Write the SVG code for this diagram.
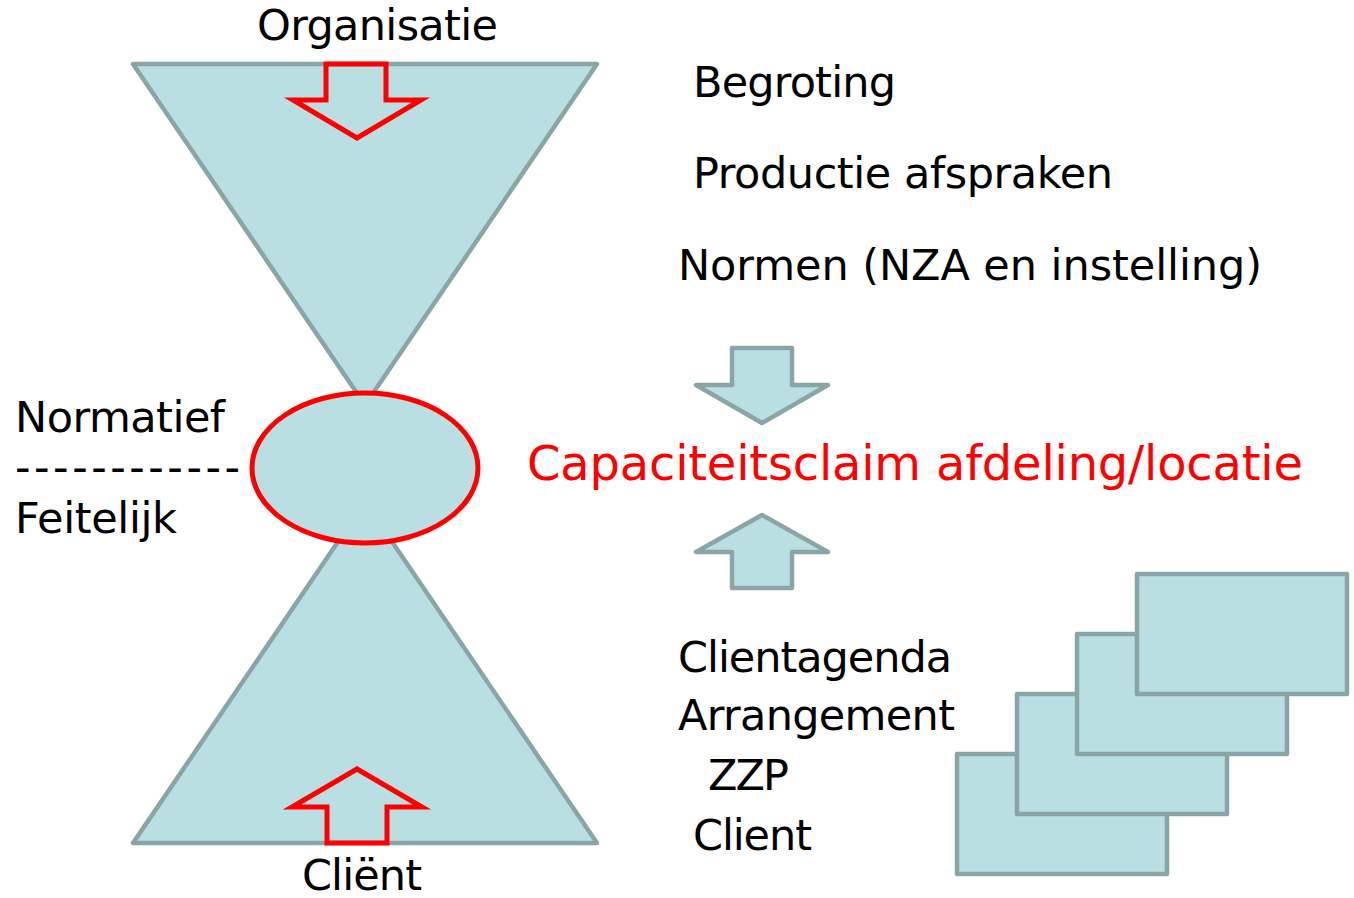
<svg xmlns="http://www.w3.org/2000/svg" width="1354" height="898" viewBox="0 0 1354 898">
  <style>
    .shape { fill: #b9dfe2; stroke: #8aa5a6; stroke-width: 4.5; stroke-linejoin: round; }
    .red { fill: none; stroke: #ff0000; stroke-width: 5; }
    .redfill { fill: #b9dfe2; stroke: #ff0000; stroke-width: 5; }
    .t { font-family: "DejaVu Sans", Verdana, sans-serif; font-size: 43px; fill: #000000; }
    .claim { font-family: "DejaVu Sans", Verdana, sans-serif; font-size: 48px; fill: #ff0000; }
  </style>
  <rect width="1354" height="898" fill="#ffffff"/>

  <g id="hourglass">
    <polygon class="shape" points="133,64 597,64 365,405"/>
    <polygon class="shape" points="133,843 597,843 365,502"/>
    <polygon class="red" points="326,64 386,64 386,100 421,100 357,138 293,100 326,100"/>
    <polygon class="red" points="327,843 387,843 387,807 422,807 357,769 292,807 327,807"/>
  </g>

  <g id="center-ellipse">
    <ellipse class="redfill" cx="365" cy="468" rx="113" ry="75"/>
  </g>

  <g id="labels-left">
    <text class="t" x="257" y="40" textLength="241">Organisatie</text>
    <text class="t" x="15" y="432" textLength="210">Normatief</text>
    <text class="t" x="15" y="482" textLength="225">------------</text>
    <text class="t" x="15" y="533" textLength="162">Feitelijk</text>
    <text class="t" x="302" y="890" textLength="120">Cliënt</text>
  </g>

  <g id="norms">
    <text class="t" x="693" y="97" textLength="203">Begroting</text>
    <text class="t" x="693" y="188" textLength="420">Productie afspraken</text>
    <text class="t" x="678" y="280" textLength="584">Normen (NZA en instelling)</text>
  </g>

  <g id="claim">
    <text class="claim" x="527" y="480" textLength="776">Capaciteitsclaim afdeling/locatie</text>
  </g>

  <g id="client-items">
    <text class="t" x="678" y="672" textLength="274">Clientagenda</text>
    <text class="t" x="678" y="730" textLength="277">Arrangement</text>
    <text class="t" x="708" y="790" textLength="81">ZZP</text>
    <text class="t" x="693" y="850" textLength="119">Client</text>
  </g>

  <g id="stack">
    <rect class="shape" x="957" y="754" width="210" height="120"/>
    <rect class="shape" x="1017" y="694" width="210" height="120"/>
    <rect class="shape" x="1077" y="634" width="210" height="120"/>
    <rect class="shape" x="1137" y="574" width="210" height="120"/>
  </g>

  <g id="connectors">
    <polygon class="shape" points="732,348 792,348 792,385 828,385 762,423 696,385 732,385"/>
    <polygon class="shape" points="732,588 792,588 792,552 828,552 762,515 696,552 732,552"/>
  </g>
</svg>
